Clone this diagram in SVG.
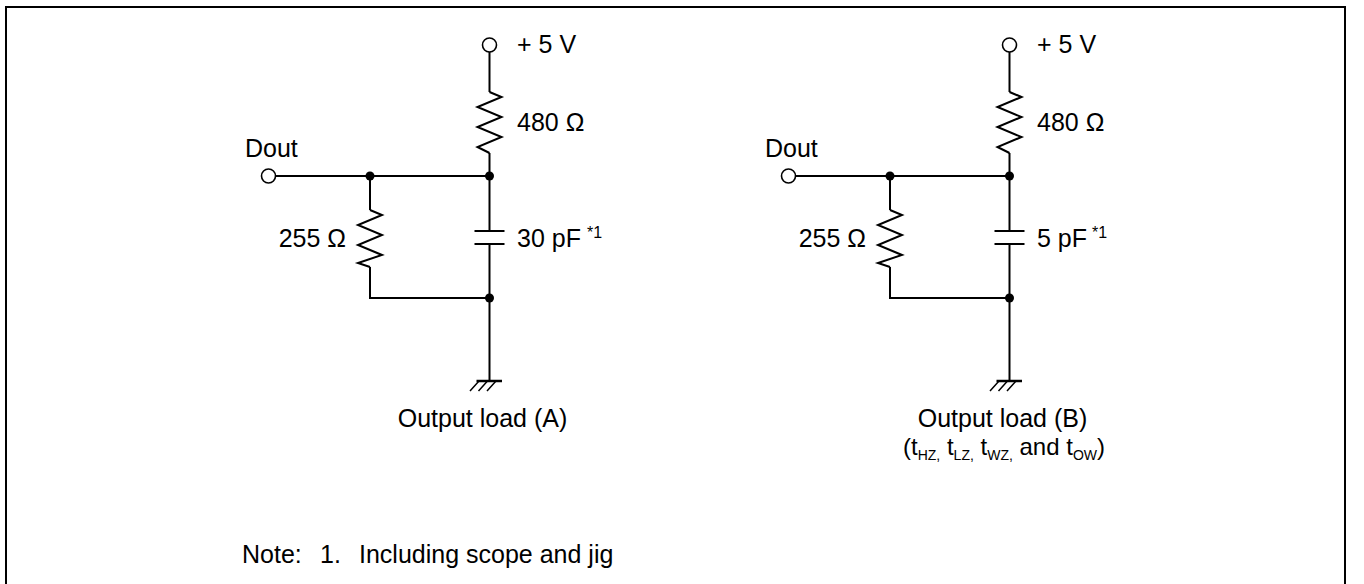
<svg xmlns="http://www.w3.org/2000/svg" width="1364" height="584" viewBox="0 0 1364 584">
<style>
.w{fill:none;stroke:#000;stroke-width:2;stroke-linejoin:miter}
.t{font-family:"Liberation Sans",Arial,sans-serif;font-size:25px;fill:#000}
.t2{font-family:"Liberation Sans",Arial,sans-serif;font-size:24px;fill:#000}
.s{font-family:"Liberation Sans",Arial,sans-serif;font-size:16px;fill:#000}
.sub{font-size:14px}
.term{fill:#fff;stroke:#000;stroke-width:1.6}
.dot{fill:#000}
.gnd{fill:none;stroke:#000;stroke-width:1.5}
</style>
<rect width="1364" height="584" fill="#fff"/>
<path d="M6,584 V7 H1345 V584" fill="none" stroke="#000" stroke-width="2"/>

<g id="connectors">
  <!-- Circuit A -->
  <path class="w" d="M489.5,52 V92"/>
  <path class="w" d="M489.5,153 V176"/>
  <path class="w" d="M275.5,176 H489.5"/>
  <path class="w" d="M370,176 V210"/>
  <path class="w" d="M370,267 V298 H489.5"/>
  <path class="w" d="M489.5,176 V231"/>
  <path class="w" d="M489.5,244 V381"/>
  <!-- Circuit B -->
  <path class="w" d="M1009.5,52 V92"/>
  <path class="w" d="M1009.5,153 V176"/>
  <path class="w" d="M795.5,176 H1009.5"/>
  <path class="w" d="M890,176 V210"/>
  <path class="w" d="M890,267 V298 H1009.5"/>
  <path class="w" d="M1009.5,176 V231"/>
  <path class="w" d="M1009.5,244 V381"/>
</g>

<g id="vcc-a">
  <circle class="term" cx="489.5" cy="45" r="7"/>
  <text class="t" x="517" y="53">+ 5 V</text>
</g>
<g id="r480-a">
  <polyline class="w" points="489.5,92 501.5,97 477.5,107 501.5,117 477.5,127 501.5,137 477.5,147 489.5,153"/>
  <text class="t" x="517" y="131">480 Ω</text>
</g>
<g id="dout-a">
  <circle class="term" cx="268.5" cy="176" r="7"/>
  <text class="t" x="245" y="157">Dout</text>
</g>
<g id="r255-a">
  <polyline class="w" points="370,210 382,215 358,225 382,235 358,245 382,255 358,263 370,267"/>
  <text class="t" x="346" y="247" text-anchor="end">255 Ω</text>
</g>
<g id="c-a">
  <path class="w" d="M474.5,231 H504.5 M474.5,244 H504.5"/>
  <text class="t" x="517" y="247">30 pF</text>
  <text class="s" x="587" y="238">*1</text>
</g>
<g id="nodes-a">
  <circle class="dot" cx="370" cy="176" r="4.5"/>
  <circle class="dot" cx="489.5" cy="176" r="4.5"/>
  <circle class="dot" cx="489.5" cy="298" r="4.5"/>
</g>
<g id="gnd-a">
  <path d="M476.5,381 H502" stroke="#000" stroke-width="2.5"/>
  <path class="gnd" d="M479,381 L470,391 M487.5,381 L478.5,391 M496,381 L487,391"/>
</g>
<g id="label-a">
  <text class="t" x="482.5" y="427" text-anchor="middle">Output load (A)</text>
</g>

<g id="vcc-b">
  <circle class="term" cx="1009.5" cy="45" r="7"/>
  <text class="t" x="1037" y="53">+ 5 V</text>
</g>
<g id="r480-b">
  <polyline class="w" points="1009.5,92 1021.5,97 997.5,107 1021.5,117 997.5,127 1021.5,137 997.5,147 1009.5,153"/>
  <text class="t" x="1037" y="131">480 Ω</text>
</g>
<g id="dout-b">
  <circle class="term" cx="788.5" cy="176" r="7"/>
  <text class="t" x="765" y="157">Dout</text>
</g>
<g id="r255-b">
  <polyline class="w" points="890,210 902,215 878,225 902,235 878,245 902,255 878,263 890,267"/>
  <text class="t" x="866" y="247" text-anchor="end">255 Ω</text>
</g>
<g id="c-b">
  <path class="w" d="M994.5,231 H1024.5 M994.5,244 H1024.5"/>
  <text class="t" x="1037" y="247">5 pF</text>
  <text class="s" x="1092" y="238">*1</text>
</g>
<g id="nodes-b">
  <circle class="dot" cx="890" cy="176" r="4.5"/>
  <circle class="dot" cx="1009.5" cy="176" r="4.5"/>
  <circle class="dot" cx="1009.5" cy="298" r="4.5"/>
</g>
<g id="gnd-b">
  <path d="M996.5,381 H1022" stroke="#000" stroke-width="2.5"/>
  <path class="gnd" d="M999,381 L990,391 M1007.5,381 L998.5,391 M1016,381 L1007,391"/>
</g>
<g id="label-b">
  <text class="t" x="1002.5" y="427" text-anchor="middle">Output load (B)</text>
  <text class="t2" x="1004" y="455" text-anchor="middle">(t<tspan class="sub" dy="5">HZ,</tspan><tspan dy="-5"> t</tspan><tspan class="sub" dy="5">LZ,</tspan><tspan dy="-5"> t</tspan><tspan class="sub" dy="5">WZ,</tspan><tspan dy="-5"> and t</tspan><tspan class="sub" dy="5">OW</tspan><tspan dy="-5">)</tspan></text>
</g>

<g id="note">
  <text class="t" y="563"><tspan x="242">Note:</tspan><tspan x="320">1.</tspan><tspan x="359">Including scope and jig</tspan></text>
</g>
</svg>
